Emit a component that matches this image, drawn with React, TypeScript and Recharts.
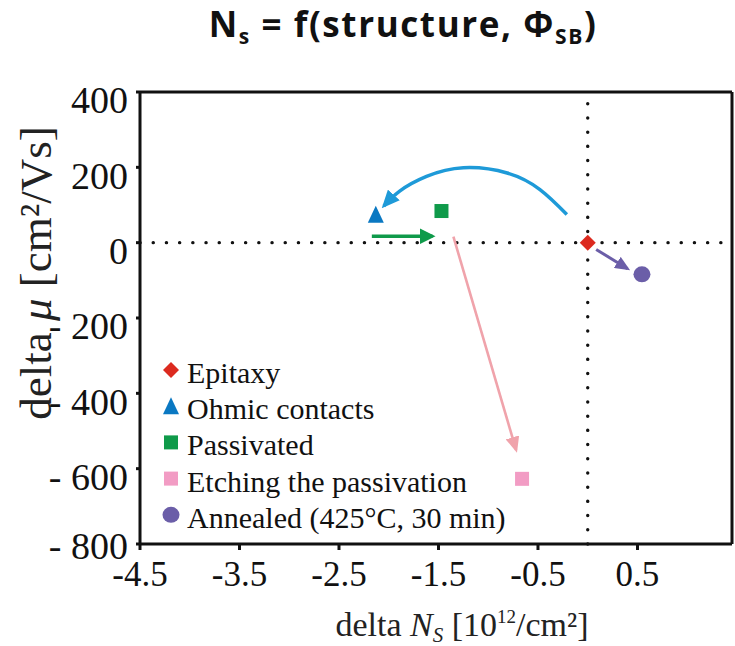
import React from "react";
import { ComposedChart, Scatter, Line, XAxis, YAxis, ReferenceLine, Legend } from "recharts";

const SERIF = "Liberation Serif, Times New Roman, serif";

const xTicks = [-4.5, -3.5, -2.5, -1.5, -0.5, 0.5];
const yTicks = [400, 200, 0, -200, -400, -600, -800];
const xDomain = [-4.5, 1.45];
const yDomain = [-800, 400];

// process stages: delta Ns [1e12/cm2], delta mu [cm2/Vs]
const epitaxy = [{ x: 0, y: 0 }];
const ohmic = [{ x: -2.13, y: 74 }];
const passivated = [{ x: -1.47, y: 84 }];
const etching = [{ x: -0.66, y: -627 }];
const annealed = [{ x: 0.545, y: -84 }];

// arrows between stages
const toOhmic = [
  { x: -0.21, y: 75 },
  { x: -0.48, y: 141 },
  { x: -0.81, y: 185 },
  { x: -1.25, y: 199 },
  { x: -1.62, y: 176 },
  { x: -1.89, y: 137 },
  { x: -2.05, y: 97 },
];
const toPassivated = [
  { x: -2.17, y: 17 },
  { x: -1.56, y: 17 },
];
const toEtching = [
  { x: -1.35, y: 16 },
  { x: -0.72, y: -550 },
];
const toAnnealed = [
  { x: 0.085, y: -18 },
  { x: 0.4, y: -69 },
];

const COLORS = {
  epitaxy: "#dc2a1f",
  ohmic: "#0a78c2",
  ohmicArrow: "#1e9ad8",
  passivated: "#0f9a4a",
  etching: "#f29cc4",
  etchingArrow: "#f0a3ab",
  annealed: "#6b5ea8",
};

type ShapeProps = { cx?: number; cy?: number; fill?: string };

const diamond = ({ cx = 0, cy = 0, fill }: ShapeProps) => (
  <path d={`M${cx},${cy - 8} L${cx + 8},${cy} L${cx},${cy + 8} L${cx - 8},${cy} Z`} fill={fill} />
);
const triangle = ({ cx = 0, cy = 0, fill }: ShapeProps) => (
  <path d={`M${cx},${cy - 9} L${cx + 8},${cy + 8} L${cx - 8},${cy + 8} Z`} fill={fill} />
);
const square = ({ cx = 0, cy = 0, fill }: ShapeProps) => (
  <rect x={cx - 7} y={cy - 7} width={14} height={14} fill={fill} />
);
const circle = ({ cx = 0, cy = 0, fill }: ShapeProps) => (
  <ellipse cx={cx} cy={cy} rx={8.5} ry={8} fill={fill} />
);

const legendItems = [
  { name: "Epitaxy", color: COLORS.epitaxy, shape: diamond },
  { name: "Ohmic contacts", color: COLORS.ohmic, shape: triangle },
  { name: "Passivated", color: COLORS.passivated, shape: square },
  { name: "Etching the passivation", color: COLORS.etching, shape: square },
  { name: "Annealed (425°C, 30 min)", color: COLORS.annealed, shape: circle },
];

// legend drawn as svg so it shares the axis font
const ROW = 36.2;
const StageLegend = () => (
  <svg width={360} height={ROW * legendItems.length} style={{ display: "block", overflow: "visible" }}>
    {legendItems.map((item, i) => (
      <g key={item.name}>
        {item.shape({ cx: 10, cy: 15 + i * ROW, fill: item.color })}
        <text x={26} y={28 + i * ROW} fontFamily={SERIF} fontSize={30} fill="#111">
          {item.name}
        </text>
      </g>
    ))}
  </svg>
);

const XTick = ({ x, y, payload }: any) => (
  <text x={x} y={y} dy="0.71em" textAnchor="middle" fontFamily={SERIF} fontSize={35} fill="#111">
    {payload.value}
  </text>
);

const YTick = ({ x, y, payload }: any) => {
  const v = payload.value as number;
  const label = v < 0 ? `- ${Math.abs(v)}` : `${v}`;
  const shift = v === -800 ? 2 : 8;
  return (
    <text x={x} y={y + shift} dy="0.355em" textAnchor="end" fontFamily={SERIF} fontSize={38} fill="#111">
      {label}
    </text>
  );
};

const XTitle = () => (
  <text x={462} y={636} textAnchor="middle" fontFamily={SERIF} fontSize={34} fill="#222">
    <tspan>delta </tspan>
    <tspan fontStyle="italic">N</tspan>
    <tspan fontStyle="italic" fontSize={21} dy={6}>S</tspan>
    <tspan dy={-6}> [10</tspan>
    <tspan fontSize={19} dy={-13}>12</tspan>
    <tspan dy={13}>/cm²]</tspan>
  </text>
);

const YTitle = () => (
  <text
    x={51}
    y={273}
    transform="rotate(-90 51 273)"
    textAnchor="middle"
    fontFamily={SERIF}
    fontSize={45}
    fill="#222"
  >
    <tspan>delta </tspan>
    <tspan fontStyle="italic">μ</tspan>
    <tspan> [cm²/Vs]</tspan>
  </text>
);

const arrowHead = (id: string, color: string, len: number, wide: number) => (
  <marker
    id={id}
    viewBox={`0 0 ${len} ${wide}`}
    refX={len - 3}
    refY={wide / 2}
    markerWidth={len}
    markerHeight={wide}
    markerUnits="userSpaceOnUse"
    orient="auto"
  >
    <path d={`M0,0 L${len},${wide / 2} L0,${wide} Z`} fill={color} />
  </marker>
);

export default function App() {
  return (
    <div style={{ position: "absolute", left: 0, top: 0, width: 735, height: 646, background: "#fff" }}>
      <div
        style={{
          position: "absolute",
          left: 103,
          top: 7,
          width: 600,
          textAlign: "center",
          fontFamily: "Open Sans, Noto Sans, sans-serif",
          fontWeight: 700,
          fontSize: 35,
          letterSpacing: 1.6,
          lineHeight: "34px",
          color: "#111",
        }}
      >
        N<span style={{ fontSize: 21, verticalAlign: -7 }}>s</span> = f(structure, Φ
        <span style={{ fontSize: 21, verticalAlign: -7 }}>SB</span>)
      </div>
      <ComposedChart width={735} height={646} margin={{ top: 92, right: 3, bottom: 0, left: 0 }}>
        <defs>
          {arrowHead("headOhmic", COLORS.ohmicArrow, 18, 16)}
          {arrowHead("headPass", COLORS.passivated, 16, 16)}
          {arrowHead("headEtch", COLORS.etchingArrow, 16, 14)}
          {arrowHead("headAnneal", COLORS.annealed, 15, 13)}
        </defs>
        <XAxis
          type="number"
          dataKey="x"
          domain={xDomain}
          ticks={xTicks}
          allowDataOverflow
          height={102}
          tickSize={6}
          tickMargin={11}
          tick={<XTick />}
          axisLine={{ stroke: "#111", strokeWidth: 3 }}
          tickLine={{ stroke: "#111", strokeWidth: 3 }}
          label={<XTitle />}
        />
        <YAxis
          type="number"
          dataKey="y"
          domain={yDomain}
          ticks={yTicks}
          allowDataOverflow
          width={140}
          tickSize={4}
          tickMargin={8}
          tick={<YTick />}
          axisLine={{ stroke: "#111", strokeWidth: 3 }}
          tickLine={{ stroke: "#111", strokeWidth: 3 }}
          label={<YTitle />}
        />
        <ReferenceLine y={400} stroke="#111" strokeWidth={3} />
        <ReferenceLine x={1.45} stroke="#111" strokeWidth={3} />
        <ReferenceLine y={0} stroke="#111" strokeWidth={3.4} strokeDasharray="0.1 13.1" strokeLinecap="round" />
        <ReferenceLine x={0} stroke="#111" strokeWidth={3.4} strokeDasharray="0.1 14.1" strokeLinecap="round" />

        <Line data={toOhmic} dataKey="y" type="natural" stroke={COLORS.ohmicArrow} strokeWidth={3.5} dot={false} activeDot={false} markerEnd="url(#headOhmic)" isAnimationActive={false} />
        <Line data={toPassivated} dataKey="y" type="linear" stroke={COLORS.passivated} strokeWidth={3.5} dot={false} activeDot={false} markerEnd="url(#headPass)" isAnimationActive={false} />
        <Line data={toEtching} dataKey="y" type="linear" stroke={COLORS.etchingArrow} strokeWidth={2.6} dot={false} activeDot={false} markerEnd="url(#headEtch)" isAnimationActive={false} />
        <Line data={toAnnealed} dataKey="y" type="linear" stroke={COLORS.annealed} strokeWidth={3} dot={false} activeDot={false} markerEnd="url(#headAnneal)" isAnimationActive={false} />

        <Scatter name="Epitaxy" data={epitaxy} fill={COLORS.epitaxy} shape={diamond} isAnimationActive={false} />
        <Scatter name="Ohmic contacts" data={ohmic} fill={COLORS.ohmic} shape={triangle} isAnimationActive={false} />
        <Scatter name="Passivated" data={passivated} fill={COLORS.passivated} shape={square} isAnimationActive={false} />
        <Scatter name="Etching the passivation" data={etching} fill={COLORS.etching} shape={square} isAnimationActive={false} />
        <Scatter name="Annealed (425°C, 30 min)" data={annealed} fill={COLORS.annealed} shape={circle} isAnimationActive={false} />

        <Legend
          layout="vertical"
          align="center"
          verticalAlign="middle"
          wrapperStyle={{ left: 161, top: 355, width: 360 }}
          content={() => <StageLegend />}
        />
      </ComposedChart>
    </div>
  );
}
